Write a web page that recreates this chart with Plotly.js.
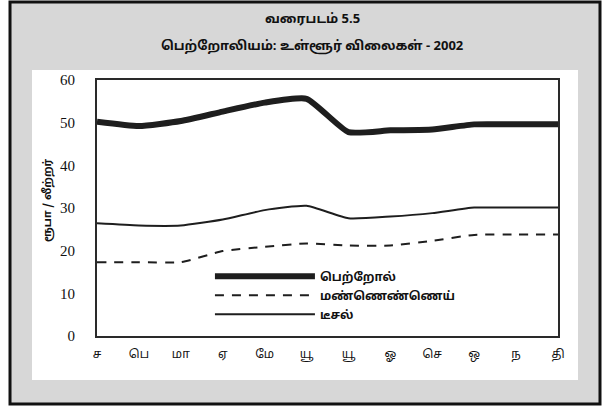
<!DOCTYPE html>
<html>
<head>
<meta charset="utf-8">
<script src="https://cdn.plot.ly/plotly-3.0.1.min.js"></script>
<style>html,body{margin:0;padding:0;background:#fff;}#chart{width:610px;height:407px;}</style>
</head>
<body>
<div id="chart"></div>
<script>
// Month labels (Tamil, Sri Lankan abbreviations)
const months = ["ச", "பெ", "மா", "ஏ", "மே", "யூ", "யூ", "ஓ", "செ", "ஒ", "ந", "தி"];
// Series names
const seriesNames = ["பெற்றோல்", "மண்ணெண்ணெய்", "டீசல்"];
// Values (rupees per litre)
const petrol   = [50.2, 49.2, 50.4, 52.6, 54.7, 55.6, 47.8, 48.2, 48.4, 49.6, 49.6, 49.6];
const kerosene = [17.3, 17.3, 17.3, 19.9, 20.9, 21.7, 21.2, 21.2, 22.3, 23.7, 23.8, 23.8];
const diesel   = [26.4, 25.9, 25.9, 27.3, 29.5, 30.5, 27.6, 28.0, 28.8, 30.1, 30.1, 30.1];
const titleLines = ["வரைபடம் 5.5", "பெற்றோலியம்: உள்ளூர் விலைகள் - 2002"];
const yTitle = "ரூபா / லீற்றர்";

const xIdx = months.map((_, i) => i);
const tamilFont = "'Noto Sans Tamil', 'Latha', 'Noto Sans', 'DejaVu Sans', sans-serif";

const traces = [
  {x: xIdx, y: petrol, name: seriesNames[0], mode: "lines",
   line: {color: "#1e1e1e", width: 6, shape: "spline", smoothing: 0.5}},
  {x: xIdx, y: kerosene, name: seriesNames[1], mode: "lines",
   line: {color: "#1e1e1e", width: 2, dash: "9px,8px", shape: "spline", smoothing: 0.5}},
  {x: xIdx, y: diesel, name: seriesNames[2], mode: "lines",
   line: {color: "#1e1e1e", width: 2, shape: "spline", smoothing: 0.5}}
];

const layout = {
  width: 610, height: 407,
  margin: {l: 97, r: 52, t: 80, b: 71},
  paper_bgcolor: "#ffffff",
  plot_bgcolor: "#ffffff",
  showlegend: true,
  legend: {
    x: 0.245, y: 0.29, xanchor: "left", yanchor: "top",
    bgcolor: "rgba(0,0,0,0)", itemwidth: 100, tracegroupgap: 0,
    font: {family: tamilFont, size: 12, color: "#111", weight: "bold"}
  },
  xaxis: {
    range: [0, 11], tickvals: xIdx, ticktext: months,
    showline: true, mirror: true, linecolor: "#2a2a2a", linewidth: 2,
    showgrid: false, zeroline: false, ticks: "", ticklabelstandoff: 6,
    tickfont: {family: tamilFont, size: 12, color: "#111"}
  },
  yaxis: {
    range: [0, 60], tickvals: [0, 10, 20, 30, 40, 50, 60],
    showline: true, mirror: true, linecolor: "#2a2a2a", linewidth: 2,
    showgrid: false, zeroline: false, ticks: "", ticklabelstandoff: 17,
    tickfont: {family: "'Liberation Serif', 'DejaVu Serif', serif", size: 15, color: "#111"}
  },
  shapes: [
    {type: "rect", xref: "paper", yref: "paper", layer: "below",
     x0: -0.1887, x1: 1.0911, y0: -0.2656, y1: 1.3047,
     fillcolor: "#d7d7d7", line: {color: "#111", width: 3}},
    {type: "rect", xref: "paper", yref: "paper", layer: "below",
     x0: -0.141, x1: 1.0434, y0: -0.1719, y1: 1.039,
     fillcolor: "#ffffff", line: {width: 0}}
  ],
  annotations: [
    {text: titleLines[0], xref: "paper", yref: "paper", x: 0.4664, y: 1.234,
     xanchor: "center", yanchor: "middle", showarrow: false,
     font: {family: tamilFont, size: 13, color: "#111", weight: "bold"}},
    {text: titleLines[1], xref: "paper", yref: "paper", x: 0.4664, y: 1.1328,
     xanchor: "center", yanchor: "middle", showarrow: false,
     font: {family: tamilFont, size: 13, color: "#111", weight: "bold"}},
    {text: yTitle, xref: "paper", yref: "paper", x: -0.1063, y: 0.531,
     xanchor: "center", yanchor: "middle", showarrow: false, textangle: -90,
     font: {family: tamilFont, size: 11, color: "#111", weight: "bold"}}
  ]
};

Plotly.newPlot("chart", traces, layout, {displayModeBar: false, staticPlot: true});
</script>
</body>
</html>
